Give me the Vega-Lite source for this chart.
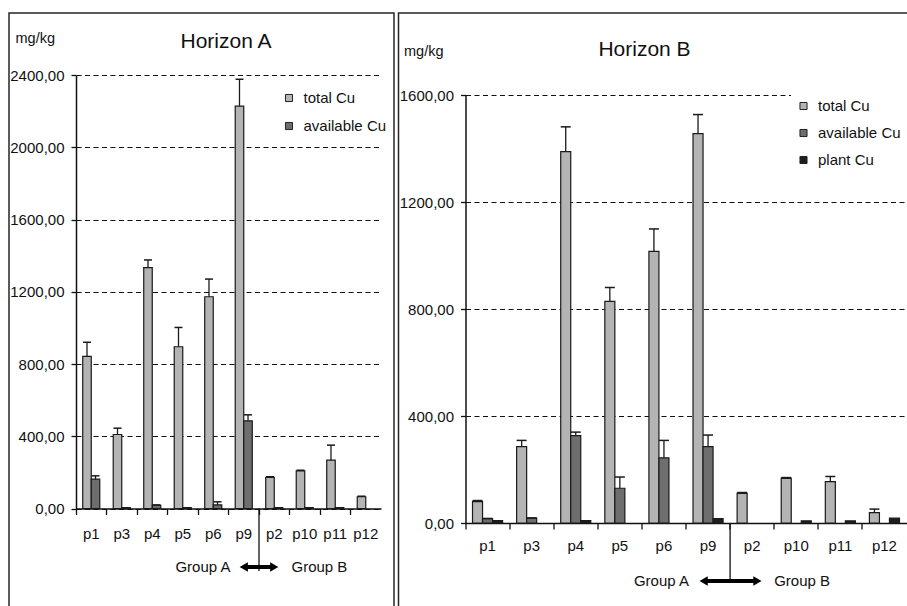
{
  "$schema": "https://vega.github.io/schema/vega-lite/v6.json",
  "padding": {"left": 8, "top": 12, "right": 0, "bottom": 0},
  "background": "white",
  "spacing": 2.5,
  "config": {
    "view": {"stroke": "#262626", "strokeWidth": 1.5},
    "font": "Liberation Sans",
    "axis": {"labelFontSize": 15, "labelColor": "#111", "domainColor": "#111", "domainWidth": 1.5, "tickColor": "#111", "tickWidth": 1.3, "titleFontSize": 14.5, "titleFontWeight": "normal", "titleColor": "#111", "labelFont": "Liberation Sans", "titleFont": "Liberation Sans"},
    "legend": {"title": null, "orient": "none", "symbolType": "square", "symbolSize": 50, "symbolStrokeColor": "#222", "symbolStrokeWidth": 1, "labelFontSize": 15, "labelFont": "Liberation Sans", "labelColor": "#111", "labelOffset": 7, "padding": 5, "fillColor": "white"},
    "title": {"fontSize": 21, "fontWeight": "normal", "color": "#111", "font": "Liberation Sans"},
    "text": {"fontSize": 15, "font": "Liberation Sans", "color": "#111"}
  },
  "resolve": {"scale": {"color": "independent", "xOffset": "independent", "x": "independent", "y": "independent"}, "legend": {"color": "independent"}},
  "hconcat": [
    {
      "width": 385,
      "height": 594,
      "title": {"text": "Horizon A", "anchor": "middle", "offset": -39, "dx": 24.5},
      "data": {"values": [
        {"site": "p1", "series": "total Cu", "value": 843, "hi": 921},
        {"site": "p1", "series": "available Cu", "value": 163, "hi": 181},
        {"site": "p3", "series": "total Cu", "value": 410, "hi": 445},
        {"site": "p3", "series": "available Cu", "value": 5},
        {"site": "p4", "series": "total Cu", "value": 1335, "hi": 1377},
        {"site": "p4", "series": "available Cu", "value": 18, "hi": 20},
        {"site": "p5", "series": "total Cu", "value": 896, "hi": 1003},
        {"site": "p5", "series": "available Cu", "value": 5},
        {"site": "p6", "series": "total Cu", "value": 1173, "hi": 1271},
        {"site": "p6", "series": "available Cu", "value": 20, "hi": 37},
        {"site": "p9", "series": "total Cu", "value": 2229, "hi": 2378},
        {"site": "p9", "series": "available Cu", "value": 486, "hi": 519},
        {"site": "p2", "series": "total Cu", "value": 172, "hi": 176},
        {"site": "p2", "series": "available Cu", "value": 5},
        {"site": "p10", "series": "total Cu", "value": 209, "hi": 212},
        {"site": "p10", "series": "available Cu", "value": 5},
        {"site": "p11", "series": "total Cu", "value": 268, "hi": 351},
        {"site": "p11", "series": "available Cu", "value": 5},
        {"site": "p12", "series": "total Cu", "value": 65, "hi": 68}
      ]},
      "layer": [
        {
          "mark": {"type": "bar", "stroke": "#1a1a1a", "strokeWidth": 1.2},
          "encoding": {
            "x": {"field": "site", "type": "nominal",
              "scale": {"domain": ["p1", "p3", "p4", "p5", "p6", "p9", "p2", "p10", "p11", "p12"], "range": [67, 372], "paddingInner": 0, "paddingOuter": 0},
              "axis": {"title": null, "offset": -98.5, "bandPosition": 0, "tickSize": 6, "labelPadding": 12, "labelAngle": 0, "grid": false}},
            "xOffset": {"field": "series", "type": "nominal", "scale": {"domain": ["total Cu", "available Cu"], "paddingInner": 0, "paddingOuter": 0.79}},
            "y": {"field": "value", "type": "quantitative",
              "scale": {"domain": [0, 2400], "range": [495.5, 62.3], "nice": false},
              "axis": {"title": "mg/kg", "titleAngle": 0, "titleX": -61, "titleY": 29.5, "titleAlign": "left", "titleBaseline": "alphabetic", "offset": -67, "values": [0, 400, 800, 1200, 1600, 2000, 2400], "labelExpr": "replace(format(datum.value, '.2f'), '.', ',')", "grid": true, "gridDash": [5, 3.5], "gridColor": "#111", "gridWidth": 1.2, "tickSize": 5, "labelPadding": 7}},
            "color": {"field": "series", "type": "nominal",
              "scale": {"domain": ["total Cu", "available Cu"], "range": ["#b4b4b4", "#6e6e6e"]},
              "legend": {"legendX": 267.5, "legendY": 72.5, "rowPadding": 12}}
          }
        },
        {
          "mark": {"type": "rule", "stroke": "#1a1a1a", "strokeWidth": 1.3},
          "encoding": {
            "x": {"field": "site", "type": "nominal"},
            "xOffset": {"field": "series", "type": "nominal"},
            "y": {"field": "value", "type": "quantitative"},
            "y2": {"field": "hi"}
          }
        },
        {
          "mark": {"type": "tick", "color": "#1a1a1a", "thickness": 1.5, "size": 8, "opacity": 1},
          "encoding": {
            "x": {"field": "site", "type": "nominal"},
            "xOffset": {"field": "series", "type": "nominal"},
            "y": {"field": "hi", "type": "quantitative"}
          }
        },
        {
          "data": {"values": [{}]},
          "mark": {"type": "rule", "stroke": "#111", "strokeWidth": 1.3},
          "encoding": {
            "x": {"datum": "p2", "bandPosition": 0},
            "y": {"datum": 0},
            "y2": {"datum": -346}
          }
        },
        {
          "data": {"values": [{}]},
          "mark": {"type": "rule", "stroke": "#000", "strokeWidth": 4},
          "encoding": {
            "x": {"datum": "p9"},
            "x2": {"datum": "p2"},
            "y": {"datum": -324}
          }
        },
        {
          "data": {"values": [{}]},
          "mark": {"type": "point", "shape": "triangle-left", "filled": true, "color": "#000", "size": 90, "opacity": 1},
          "encoding": {"x": {"datum": "p9"}, "y": {"datum": -324}}
        },
        {
          "data": {"values": [{}]},
          "mark": {"type": "point", "shape": "triangle-right", "filled": true, "color": "#000", "size": 90, "opacity": 1},
          "encoding": {"x": {"datum": "p2"}, "y": {"datum": -324}}
        },
        {
          "data": {"values": [{}]},
          "mark": {"type": "text", "align": "right", "baseline": "middle", "dx": 2},
          "encoding": {"x": {"datum": "p9", "bandPosition": 0}, "y": {"datum": -324}, "text": {"value": "Group A"}}
        },
        {
          "data": {"values": [{}]},
          "mark": {"type": "text", "align": "left", "baseline": "middle", "dx": 2},
          "encoding": {"x": {"datum": "p10", "bandPosition": 0}, "y": {"datum": -324}, "text": {"value": "Group B"}}
        }
      ]
    },
    {
      "width": 510,
      "height": 594,
      "title": {"text": "Horizon B", "anchor": "middle", "offset": -47, "dx": -9},
      "data": {"values": [
        {"site": "p1", "series": "total Cu", "value": 80, "hi": 84},
        {"site": "p1", "series": "available Cu", "value": 16, "hi": 17},
        {"site": "p1", "series": "plant Cu", "value": 9},
        {"site": "p3", "series": "total Cu", "value": 286, "hi": 309},
        {"site": "p3", "series": "available Cu", "value": 18, "hi": 19},
        {"site": "p4", "series": "total Cu", "value": 1389, "hi": 1482},
        {"site": "p4", "series": "available Cu", "value": 327, "hi": 340},
        {"site": "p4", "series": "plant Cu", "value": 9},
        {"site": "p5", "series": "total Cu", "value": 829, "hi": 881},
        {"site": "p5", "series": "available Cu", "value": 130, "hi": 172},
        {"site": "p6", "series": "total Cu", "value": 1016, "hi": 1100},
        {"site": "p6", "series": "available Cu", "value": 244, "hi": 309},
        {"site": "p9", "series": "total Cu", "value": 1457, "hi": 1528},
        {"site": "p9", "series": "available Cu", "value": 286, "hi": 329},
        {"site": "p9", "series": "plant Cu", "value": 16},
        {"site": "p2", "series": "total Cu", "value": 111, "hi": 114},
        {"site": "p10", "series": "total Cu", "value": 167, "hi": 170},
        {"site": "p10", "series": "plant Cu", "value": 8},
        {"site": "p11", "series": "total Cu", "value": 155, "hi": 174},
        {"site": "p11", "series": "plant Cu", "value": 8},
        {"site": "p12", "series": "total Cu", "value": 39, "hi": 52},
        {"site": "p12", "series": "plant Cu", "value": 18}
      ]},
      "layer": [
        {
          "mark": {"type": "bar", "stroke": "#1a1a1a", "strokeWidth": 1.2},
          "encoding": {
            "x": {"field": "site", "type": "nominal",
              "scale": {"domain": ["p1", "p3", "p4", "p5", "p6", "p9", "p2", "p10", "p11", "p12"], "range": [67, 508], "paddingInner": 0, "paddingOuter": 0},
              "axis": {"title": null, "offset": -84, "bandPosition": 0, "tickSize": 6, "labelPadding": 9, "labelAngle": 0, "grid": false}},
            "xOffset": {"field": "series", "type": "nominal", "scale": {"domain": ["total Cu", "available Cu", "plant Cu"], "paddingInner": 0, "paddingOuter": 0.7}},
            "y": {"field": "value", "type": "quantitative",
              "scale": {"domain": [0, 1600], "range": [510, 82.3], "nice": false},
              "axis": {"title": "mg/kg", "titleAngle": 0, "titleX": -62, "titleY": 42.3, "titleAlign": "left", "titleBaseline": "alphabetic", "offset": -67, "values": [0, 400, 800, 1200, 1600], "labelExpr": "replace(format(datum.value, '.2f'), '.', ',')", "grid": true, "gridDash": [5, 3.5], "gridColor": "#111", "gridWidth": 1.2, "tickSize": 5, "labelPadding": 7}},
            "color": {"field": "series", "type": "nominal",
              "scale": {"domain": ["total Cu", "available Cu", "plant Cu"], "range": ["#b4b4b4", "#6e6e6e", "#1e1e1e"]},
              "legend": {"legendX": 392.5, "legendY": 80.5, "rowPadding": 11}}
          }
        },
        {
          "mark": {"type": "rule", "stroke": "#1a1a1a", "strokeWidth": 1.3},
          "encoding": {
            "x": {"field": "site", "type": "nominal"},
            "xOffset": {"field": "series", "type": "nominal"},
            "y": {"field": "value", "type": "quantitative"},
            "y2": {"field": "hi"}
          }
        },
        {
          "mark": {"type": "tick", "color": "#1a1a1a", "thickness": 1.5, "size": 10, "opacity": 1},
          "encoding": {
            "x": {"field": "site", "type": "nominal"},
            "xOffset": {"field": "series", "type": "nominal"},
            "y": {"field": "hi", "type": "quantitative"}
          }
        },
        {
          "data": {"values": [{}]},
          "mark": {"type": "rule", "stroke": "#111", "strokeWidth": 1.3},
          "encoding": {
            "x": {"datum": "p2", "bandPosition": 0},
            "y": {"datum": 0},
            "y2": {"datum": -217}
          }
        },
        {
          "data": {"values": [{}]},
          "mark": {"type": "rule", "stroke": "#000", "strokeWidth": 4},
          "encoding": {
            "x": {"datum": "p9", "bandPosition": 0.4},
            "x2": {"datum": "p2", "bandPosition": 0.62},
            "y": {"datum": -217}
          }
        },
        {
          "data": {"values": [{}]},
          "mark": {"type": "point", "shape": "triangle-left", "filled": true, "color": "#000", "size": 90, "opacity": 1},
          "encoding": {"x": {"datum": "p9", "bandPosition": 0.4}, "y": {"datum": -217}}
        },
        {
          "data": {"values": [{}]},
          "mark": {"type": "point", "shape": "triangle-right", "filled": true, "color": "#000", "size": 90, "opacity": 1},
          "encoding": {"x": {"datum": "p2", "bandPosition": 0.62}, "y": {"datum": -217}}
        },
        {
          "data": {"values": [{}]},
          "mark": {"type": "text", "align": "right", "baseline": "middle", "dx": 3},
          "encoding": {"x": {"datum": "p9", "bandPosition": 0}, "y": {"datum": -217}, "text": {"value": "Group A"}}
        },
        {
          "data": {"values": [{}]},
          "mark": {"type": "text", "align": "left", "baseline": "middle", "dx": 0},
          "encoding": {"x": {"datum": "p10", "bandPosition": 0}, "y": {"datum": -217}, "text": {"value": "Group B"}}
        }
      ]
    }
  ]
}
